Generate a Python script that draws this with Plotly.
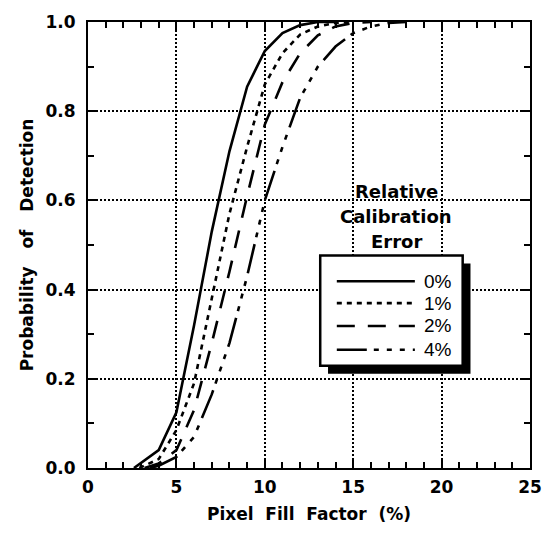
import plotly.graph_objects as go

# ---- data ----
x_0pct = [2.6, 3, 4, 5, 6, 7, 8, 9, 10, 11, 12, 13, 14]
y_0pct = [0.0, 0.012, 0.04, 0.125, 0.32, 0.53, 0.71, 0.855, 0.935, 0.975, 0.993, 1.0, 1.0]

x_1pct = [2.9, 4, 5, 6, 7, 8, 9, 10, 11, 12, 13, 14, 15]
y_1pct = [0.0, 0.02, 0.085, 0.19, 0.38, 0.57, 0.72, 0.86, 0.93, 0.972, 0.99, 0.998, 1.0]

x_2pct = [3.2, 4, 5, 6, 7, 8, 9, 10, 11, 12, 13, 14, 15, 16]
y_2pct = [0.0, 0.01, 0.04, 0.13, 0.28, 0.44, 0.61, 0.77, 0.865, 0.93, 0.97, 0.99, 0.998, 1.0]

x_4pct = [3.5, 4, 5, 6, 7, 8, 9, 10, 11, 12, 13, 14, 15, 16, 17, 18]
y_4pct = [0.0, 0.005, 0.025, 0.07, 0.165, 0.28, 0.43, 0.6, 0.72, 0.83, 0.9, 0.945, 0.975, 0.99, 0.998, 1.0]

series_names = ["0%", "1%", "2%", "4%"]
x_ticks = [0, 5, 10, 15, 20, 25]
y_ticks = [0.0, 0.2, 0.4, 0.6, 0.8, 1.0]
legend_title_lines = ["Relative", "Calibration", "Error"]

# ---- styles ----
dashes = ["solid", "5px,5px", "18px,13px", "30px,7px,5px,8px,5px,8px,5px,8px"]
LW = 2.6
W, H = 554, 533
L, R, T, B = 88, 541, 22, 471  # plot area in pixels


def px_x(p):
    return (p - L) / (R - L)


def px_y(p):
    return (B - p) / (B - T)


fig = go.Figure()
for xs, ys, name, d in zip([x_0pct, x_1pct, x_2pct, x_4pct],
                           [y_0pct, y_1pct, y_2pct, y_4pct],
                           series_names, dashes):
    fig.add_trace(go.Scatter(x=xs, y=ys, mode="lines", name=name,
                             line=dict(color="black", width=LW, dash=d),
                             showlegend=False))

tick_font = dict(family="DejaVu Sans", size=17, color="black", weight="bold")
title_font = dict(family="DejaVu Sans", size=17, color="black", weight="bold")

axis_common = dict(
    showline=True, linecolor="black", linewidth=2, mirror="ticks",
    ticks="inside", ticklen=10, tickwidth=2, tickcolor="black",
    showgrid=True, gridcolor="black", gridwidth=2, griddash="2px,2px",
    zeroline=False, tickfont=tick_font,
)

fig.update_xaxes(range=[0, 25], tickvals=x_ticks,
                 ticktext=[str(v) for v in x_ticks],
                 minor=dict(dtick=1, ticks="inside", ticklen=6, tickwidth=2,
                            tickcolor="black", showgrid=False),
                 title=dict(text="Pixel\u00a0\u00a0Fill\u00a0\u00a0Factor\u00a0\u00a0(%)",
                            font=title_font, standoff=12),
                 ticklabelstandoff=3,
                 **axis_common)
fig.update_yaxes(range=[0, 1], tickvals=y_ticks,
                 ticktext=[f"{v:.1f}" for v in y_ticks],
                 minor=dict(dtick=0.1, ticks="inside", ticklen=6, tickwidth=2,
                            tickcolor="black", showgrid=False),
                 title=dict(text="Probability\u00a0\u00a0\u00a0of\u00a0\u00a0\u00a0Detection",
                            font=title_font, standoff=8),
                 ticklabelstandoff=7,
                 **axis_common)

# ---- hand-drawn legend box with drop shadow ----
bx0, bx1, by0, by1 = 326, 472, 257, 368
off = 8
shapes = [
    dict(type="rect", xref="paper", yref="paper",
         x0=px_x(bx0 + off), x1=px_x(bx1 + off), y0=px_y(by1 + off), y1=px_y(by0 + off),
         fillcolor="black", line=dict(color="black", width=0), layer="above"),
    dict(type="rect", xref="paper", yref="paper",
         x0=px_x(bx0), x1=px_x(bx1), y0=px_y(by1), y1=px_y(by0),
         fillcolor="white", line=dict(color="black", width=2.5), layer="above"),
]
row_y = [283, 305, 328, 352]
for name, d, ry in zip(series_names, dashes, row_y):
    shapes.append(dict(type="line", xref="paper", yref="paper",
                       x0=px_x(343), x1=px_x(423), y0=px_y(ry), y1=px_y(ry),
                       line=dict(color="black", width=LW, dash=d), layer="above"))

annotations = []
for name, ry in zip(series_names, row_y):
    annotations.append(dict(text=name, xref="paper", yref="paper",
                            x=px_x(430), y=px_y(ry), xanchor="left", yanchor="middle",
                            showarrow=False,
                            font=dict(family="Liberation Sans", size=19, color="black")))
for line, ty in zip(legend_title_lines, [193, 218, 243]):
    annotations.append(dict(text=line, xref="paper", yref="paper",
                            x=px_x(404), y=px_y(ty), xanchor="center", yanchor="middle",
                            showarrow=False,
                            font=dict(family="DejaVu Sans", size=18, color="black",
                                      weight="bold")))

fig.update_layout(
    width=W, height=H, autosize=False,
    margin=dict(l=L, r=W - R, t=T, b=H - B, pad=0),
    plot_bgcolor="white", paper_bgcolor="white",
    shapes=shapes, annotations=annotations,
)

fig.write_html("out.html")
